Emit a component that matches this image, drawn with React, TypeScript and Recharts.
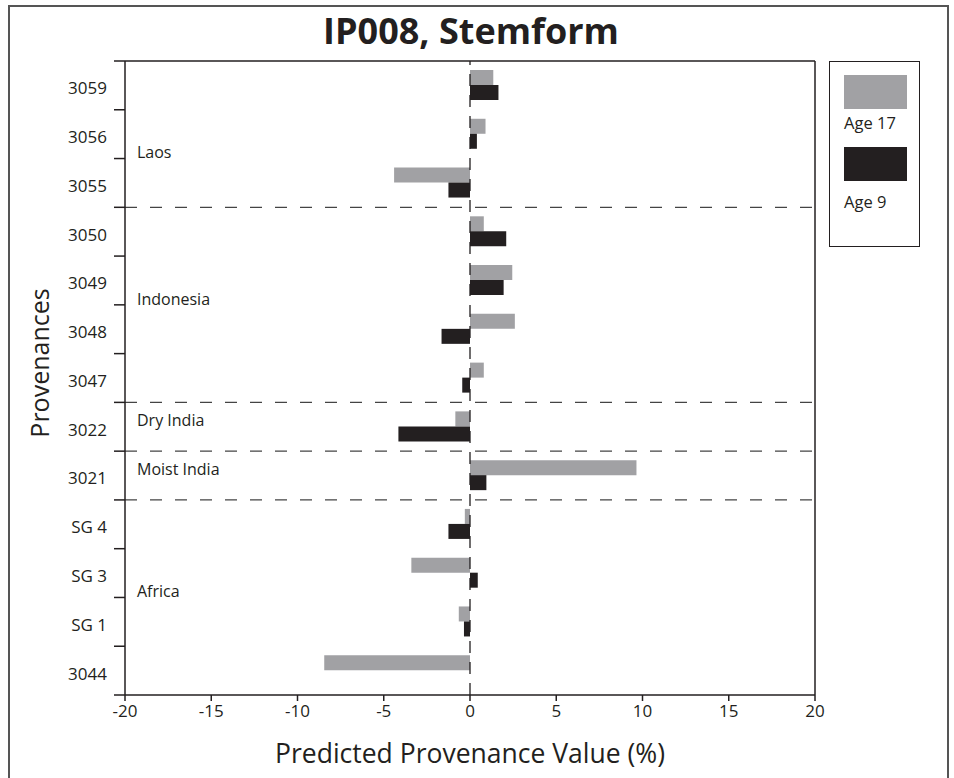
import { BarChart, Bar, XAxis, YAxis, ReferenceLine, Legend } from 'recharts';

// provenances top to bottom
const provenances = ['3059', '3056', '3055', '3050', '3049', '3048', '3047', '3022', '3021', 'SG 4', 'SG 3', 'SG 1', '3044'];
const age17 = [1.35, 0.9, -4.4, 0.8, 2.45, 2.6, 0.8, -0.85, 9.65, -0.3, -3.4, -0.65, -8.45];
const age9 = [1.65, 0.4, -1.25, 2.1, 1.95, -1.65, -0.45, -4.15, 0.95, -1.25, 0.45, -0.35, 0];
const xTicks = [-20, -15, -10, -5, 0, 5, 10, 15, 20];

// regions: first provenance of each group, and the row its name sits on
const regions = ['Laos', 'Indonesia', 'Dry India', 'Moist India', 'Africa'];
const regionStarts = ['3059', '3050', '3022', '3021', 'SG 4'];
const regionLabelRow = ['3055', '3048', '3022', '3021', 'SG 1'];
const regionLabelPos: ('start' | 'middle')[] = ['start', 'start', 'middle', 'middle', 'start'];

const data = provenances.map((p, i) => ({ name: p, age17: age17[i], age9: age9[i] }));

const ink = '#231f20';
const gray = '#a1a1a4';

// category tick: label at band centre, short tick mark at the band edge
function ProvTick(props: any) {
  const { x, y, payload, index } = props;
  const half = payload && payload.offset ? payload.offset : 24.4;
  const last = index === provenances.length - 1;
  return (
    <g>
      <line x1={x - 11} x2={x} y1={y - half} y2={y - half} stroke={ink} strokeWidth={1.5} />
      {last && <line x1={x - 11} x2={x} y1={y + half} y2={y + half} stroke={ink} strokeWidth={1.5} />}
      <text x={x - 18} y={y + 3} dy="0.35em" textAnchor="end" fill={ink} fontSize={17}>
        {payload.value}
      </text>
    </g>
  );
}

function LegendBox({ payload }: any) {
  return (
    <div
      style={{
        border: `1.5px solid ${ink}`,
        width: 91,
        height: 186,
        boxSizing: 'border-box',
        paddingTop: 13,
        paddingLeft: 14,
        background: '#fff'
      }}
    >
      {(payload || []).map((p: any, i: number) => (
        <div key={p.value} style={{ marginBottom: 13 }}>
          <div style={{ width: 63, height: 34, background: p.color }} />
          <div style={{ fontSize: 16.5, lineHeight: '22px', marginTop: i === 0 ? 3 : 10, color: ink }}>
            {p.value}
          </div>
        </div>
      ))}
    </div>
  );
}

export default function App() {
  return (
    <div
      style={{
        position: 'absolute',
        left: 0,
        top: 0,
        width: 954,
        height: 778,
        overflow: 'hidden',
        background: '#fff',
        fontFamily: '"Open Sans", sans-serif'
      }}
    >
      <div
        style={{
          position: 'absolute',
          left: 8,
          top: 5,
          width: 941,
          height: 800,
          border: '2px solid #555',
          boxSizing: 'border-box'
        }}
      />
      <div
        style={{
          position: 'absolute',
          left: 0,
          top: 8,
          width: 942,
          textAlign: 'center',
          fontSize: 36,
          lineHeight: '46px',
          fontWeight: 700,
          color: ink
        }}
      >
        IP008, Stemform
      </div>

      <BarChart
        width={954}
        height={778}
        data={data}
        layout="vertical"
        margin={{ top: 61, right: 139, bottom: 0, left: 0 }}
        barSize={15}
        barGap={0}
      >
        <XAxis
          type="number"
          domain={[-20, 20]}
          ticks={xTicks}
          height={83}
          tickSize={6}
          tickMargin={4}
          stroke={ink}
          strokeWidth={1.5}
          tick={{ fill: ink, fontSize: 17 }}
          label={{
            value: 'Predicted Provenance Value (%)',
            position: 'insideBottom',
            offset: 15,
            fill: ink,
            fontSize: 26.5
          }}
        />
        <YAxis
          type="category"
          dataKey="name"
          width={125}
          tickLine={false}
          tickSize={0}
          tickMargin={0}
          stroke={ink}
          strokeWidth={1.5}
          interval={0}
          tick={<ProvTick />}
          label={{
            value: 'Provenances',
            angle: -90,
            position: 'insideLeft',
            offset: 40,
            dy: -15,
            textAnchor: 'middle',
            fill: ink,
            fontSize: 25
          }}
        />
        <Legend
          layout="vertical"
          align="center"
          verticalAlign="middle"
          content={<LegendBox />}
          wrapperStyle={{ left: 829, top: 61, width: 91 }}
        />

        <ReferenceLine y={provenances[0]} position="start" stroke={ink} strokeWidth={1.5} />
        <ReferenceLine x={20} stroke={ink} strokeWidth={1.5} />
        <ReferenceLine x={0} stroke={ink} strokeWidth={1.3} strokeDasharray="12 9" />
        {regionStarts.slice(1).map((s) => (
          <ReferenceLine key={s} y={s} position="start" stroke="#444" strokeWidth={1.3} strokeDasharray="12 13" />
        ))}
        {regions.map((r, i) => (
          <ReferenceLine
            key={r}
            y={regionLabelRow[i]}
            position={regionLabelPos[i]}
            stroke="none"
            label={{ value: r, position: 'insideLeft', offset: 12, dy: -6, fill: ink, fontSize: 16 }}
          />
        ))}

        <Bar dataKey="age17" name="Age 17" fill={gray} isAnimationActive={false} />
        <Bar dataKey="age9" name="Age 9" fill={ink} isAnimationActive={false} />
      </BarChart>
    </div>
  );
}
